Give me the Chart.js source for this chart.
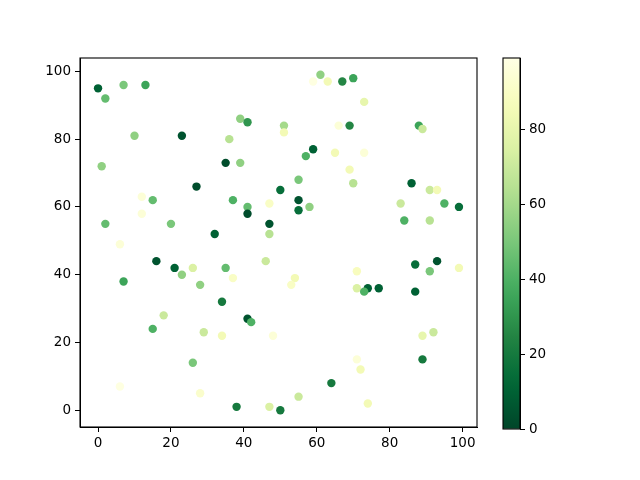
<!DOCTYPE html>
<html><head><meta charset="utf-8">
<script src="https://cdn.jsdelivr.net/npm/chart.js@4"></script>
<style>
html,body{margin:0;padding:0;background:#fff}
#wrap{position:relative;width:640px;height:480px}
canvas{position:absolute;left:0;top:0}
</style>
</head><body>
<div id="wrap"><canvas id="main" width="640" height="480"></canvas><canvas id="cb" width="640" height="480"></canvas></div>
<script>
const xValues = [0,7,13,2,39,41,10,23,36,1,35,39,27,50,12,15,37,41,41,47,12,2,20,32,47,47,6,
  61,59,63,67,70,73,51,51,66,69,88,89,59,57,65,73,69,70,55,55,55,58,86,91,93,83,95,99,84,91,
  16,21,26,23,35,46,37,7,28,34,18,41,42,15,29,34,48,26,6,28,38,47,50,
  54,53,71,71,74,73,77,87,93,91,99,87,89,92,71,72,89,64,55,74];
const yValues = [95,96,96,92,86,85,81,81,80,72,73,73,66,65,63,62,62,60,58,61,58,55,55,52,55,52,49,
  99,97,97,97,98,91,84,82,84,84,84,83,77,75,76,76,71,67,68,62,59,60,67,65,65,61,61,60,56,56,
  44,42,42,40,42,44,39,38,37,32,28,27,26,24,23,22,22,14,7,5,1,1,0,
  39,37,41,36,36,35,36,43,44,41,42,35,22,23,15,12,15,8,4,2];
const colorValues = [10,50,35,45,55,30,55,5,65,55,3,55,3,15,95,45,40,45,3,90,95,45,50,10,5,65,95,
  55,98,85,25,35,80,60,85,95,25,35,70,10,40,85,95,85,65,50,5,15,55,10,70,85,70,40,15,40,65,
  5,10,75,55,45,70,90,35,55,20,70,5,40,40,70,85,95,50,98,92,20,75,20,
  85,90,88,75,10,40,10,15,5,50,85,10,80,70,95,85,20,20,70,85];
const xTicks = [0,20,40,60,80,100];
const yTicks = [0,20,40,60,80,100];
const cbTicks = [0,20,40,60,80];
const cMin = 0, cMax = 99;
// YlGn_r colormap stops
const cmapStops = ['#004529','#006837','#238443','#41ab5d','#78c679','#addd8e','#d9f0a3','#f7fcb9','#ffffe5'];

function hexToRgb(h){return [parseInt(h.slice(1,3),16),parseInt(h.slice(3,5),16),parseInt(h.slice(5,7),16)];}
function cmap(t){
  t=Math.max(0,Math.min(1,t));
  const n=cmapStops.length-1, p=t*n, i=Math.min(Math.floor(p),n-1), f=p-i;
  const a=hexToRgb(cmapStops[i]), b=hexToRgb(cmapStops[i+1]);
  return 'rgb('+a.map((v,k)=>Math.round(v+(b[k]-v)*f)).join(',')+')';
}
const FONT = {family:'DejaVu Sans', size:13.5};
const framePlugin = {id:'frame', afterDraw(chart){
  const a=chart.chartArea, c=chart.ctx; c.save(); c.strokeStyle='#000'; c.lineWidth=1.1;
  c.strokeRect(a.left,a.top,a.right-a.left,a.bottom-a.top); c.restore();
}};
const pts = xValues.map((x,i)=>({x:x,y:yValues[i]}));
new Chart(document.getElementById('main'),{
  type:'scatter',
  data:{datasets:[{data:pts, backgroundColor:colorValues.map(v=>cmap((v-cMin)/(cMax-cMin))), pointRadius:4.2, pointHoverRadius:4.2, borderWidth:0}]},
  options:{responsive:false, devicePixelRatio:1, animation:false,
    layout:{padding:{left:0,top:58,right:163,bottom:0}},
    plugins:{legend:{display:false},tooltip:{enabled:false}},
    scales:{
      x:{type:'linear', min:-4.95, max:103.95,
        afterBuildTicks:s=>{s.ticks=xTicks.map(v=>({value:v}));},
        afterFit:s=>{s.height=53;},
        grid:{drawOnChartArea:false, drawTicks:true, tickLength:5, color:'#000', tickWidth:1},
        border:{display:true,color:'#000'},
        ticks:{color:'#000', font:FONT, padding:3, maxRotation:0}},
      y:{type:'linear', min:-4.95, max:103.95,
        afterBuildTicks:s=>{s.ticks=yTicks.map(v=>({value:v}));},
        afterFit:s=>{s.width=80;},
        grid:{drawOnChartArea:false, drawTicks:true, tickLength:5, color:'#000', tickWidth:1},
        border:{display:true,color:'#000'},
        ticks:{color:'#000', font:FONT, padding:4}}
    }},
  plugins:[framePlugin]
});
new Chart(document.getElementById('cb'),{
  type:'bar',
  data:{labels:['c'], datasets:[{data:[[cMin,cMax]], barPercentage:1, categoryPercentage:1, borderWidth:0,
    backgroundColor:(ctx)=>{
      const ch=ctx.chart; if(!ch.chartArea) return null;
      const ys=ch.scales.y; const y0=ys.getPixelForValue(cMin), y1=ys.getPixelForValue(cMax);
      const g=ch.ctx.createLinearGradient(0,y0,0,y1);
      for(let i=0;i<=20;i++){g.addColorStop(i/20,cmap(i/20));}
      return g;
    }}]},
  options:{responsive:false, devicePixelRatio:1, animation:false,
    layout:{padding:{left:503,top:58,right:0,bottom:51}},
    plugins:{legend:{display:false},tooltip:{enabled:false}},
    scales:{
      x:{display:false},
      y:{type:'linear', position:'right', min:cMin, max:cMax,
        afterBuildTicks:s=>{s.ticks=cbTicks.map(v=>({value:v}));},
        afterFit:s=>{s.width=120;},
        grid:{drawOnChartArea:false, drawTicks:true, tickLength:5, color:'#000', tickWidth:1},
        border:{display:true,color:'#000'},
        ticks:{color:'#000', font:FONT, padding:4}}
    }},
  plugins:[framePlugin]
});
</script>
</body></html>
